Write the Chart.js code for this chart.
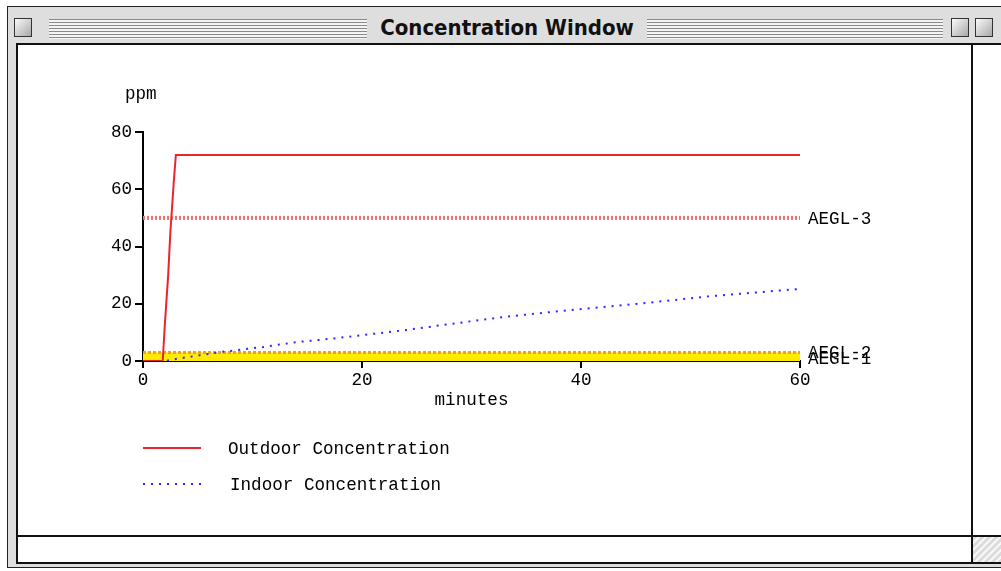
<!DOCTYPE html>
<html>
<head>
<meta charset="utf-8">
<script src="https://cdn.jsdelivr.net/npm/chart.js@4"></script>
<style>
  html, body { margin: 0; padding: 0; background: #fff; }
  body { width: 1001px; height: 571px; position: relative; overflow: hidden; }
  .win { position: absolute; left: 7px; top: 6px; width: 1000px; height: 562px;
    background: #dedede; border: 1px solid #222; box-sizing: border-box; }
  .titlebar { position: absolute; left: 7px; top: 6px; width: 1000px; height: 37px; }
  .stripes { position: absolute; top: 13px; height: 20px;
    background: repeating-linear-gradient(to bottom, #8a8a8a 0, #8a8a8a 1px, #f4f4f4 1px, #f4f4f4 3px); }
  .title { position: absolute; left: 360px; top: 8px; width: 280px; text-align: center;
    font: bold 22px "DejaVu Sans Condensed", "Liberation Sans Narrow", sans-serif;
    color: #111; background: #dedede; line-height: 28px; }
  .box { position: absolute; top: 12px; width: 18px; height: 19px; border: 1px solid #333;
    background: linear-gradient(135deg, #fafafa, #a8a8a8); box-sizing: border-box; }
  .content { position: absolute; left: 16px; top: 43px; width: 990px; height: 521px;
    background: #fff; border: 2px solid #111; box-sizing: border-box; }
  .vbar { position: absolute; left: 971px; top: 43px; width: 2px; height: 521px; background: #111; }
  .hbar { position: absolute; left: 16px; top: 535px; width: 990px; height: 2px; background: #111; }
  .grow { position: absolute; left: 973px; top: 537px; width: 30px; height: 25px;
    background: repeating-linear-gradient(135deg, #dcdcdc 0, #dcdcdc 3px, #f7f7f7 3px, #f7f7f7 5px); }
  canvas { position: absolute; left: 0; top: 0; }
</style>
</head>
<body>
<div class="win"></div>
<div class="titlebar">
  <div class="box" style="left:7px"></div>
  <div class="stripes" style="left:42px; width:330px"></div>
  <div class="stripes" style="left:636px; width:300px"></div>
  <div class="title">Concentration Window</div>
  <div class="box" style="left:944px"></div>
  <div class="box" style="left:968px"></div>
</div>
<div class="content"></div>
<div class="vbar"></div>
<div class="hbar"></div>
<div class="grow"></div>
<canvas id="chart" width="1001" height="571"></canvas>
<script>
// values
const outdoorMinutes = [0, 1.8, 2.0, 2.3, 2.5, 2.8, 3.0, 60];
const outdoorPpm = [0, 0, 13, 30, 45, 62, 72, 72];

const indoorMinutes = [0, 2, 3, 7, 11, 14, 17, 24, 28, 33, 39, 45, 52, 60];
const indoorPpm = [0, 0, 0.7, 3.1, 4.9, 6.6, 7.7, 10.8, 12.9, 15.4, 17.8, 19.9, 22.7, 25.2];

const aeglNames = ["AEGL-3", "AEGL-2", "AEGL-1"];
const aeglPpm = [50, 3, 1.1];

const xTicks = [0, 20, 40, 60];
const yTicks = [0, 20, 40, 60, 80];

const monoFont = { family: "'Liberation Mono', 'DejaVu Sans Mono', monospace", size: 17.6 };
const fontStr = "17.6px 'Liberation Mono', 'DejaVu Sans Mono', monospace";

const toPoints = (xs, ys) => xs.map((x, i) => ({ x: x, y: ys[i] }));

const aeglStyles = [
  { borderColor: "#f07070", borderDash: [2, 2], borderWidth: 4, fill: false },
  { borderColor: "#f0a020", borderDash: [3, 2], borderWidth: 3, fill: "origin", backgroundColor: "#ffea00" },
  { borderColor: "#ffe000", borderDash: [], borderWidth: 2, fill: false },
];

const aeglDatasets = aeglNames.map((name, i) => Object.assign({
  label: name,
  data: [{ x: xTicks[0], y: aeglPpm[i] }, { x: xTicks[xTicks.length - 1], y: aeglPpm[i] }],
  pointRadius: 0,
  order: 5,
}, aeglStyles[i]));

// AEGL labels at the right end of each level line
const aeglLabels = {
  id: "aeglLabels",
  afterDatasetsDraw(chart) {
    const ctx = chart.ctx;
    const yScale = chart.scales.y;
    ctx.save();
    ctx.font = fontStr;
    ctx.fillStyle = "#000";
    ctx.textBaseline = "middle";
    aeglNames.forEach((name, i) => {
      ctx.fillText(name, chart.chartArea.right + 8, yScale.getPixelForValue(aeglPpm[i]) + 1);
    });
    // unit label above the y axis
    ctx.fillText("ppm", chart.chartArea.left - 18, chart.chartArea.top - 38);
    ctx.restore();
  },
};

// legend drawn under the plot like the original
const bottomLegend = {
  id: "bottomLegend",
  afterDraw(chart) {
    const ctx = chart.ctx;
    const left = chart.chartArea.left;
    const rows = [0, 1];
    ctx.save();
    ctx.font = fontStr;
    ctx.textBaseline = "middle";
    rows.forEach((di, r) => {
      const ds = chart.data.datasets[di];
      const y = 448 + r * 36;
      ctx.strokeStyle = ds.borderColor;
      ctx.lineWidth = 2;
      ctx.setLineDash(ds.borderDash || []);
      ctx.beginPath();
      ctx.moveTo(left, y);
      ctx.lineTo(left + 58, y);
      ctx.stroke();
      ctx.setLineDash([]);
      ctx.fillStyle = "#000";
      ctx.fillText(ds.label, left + 85 + r * 2, y + 1);
    });
    ctx.restore();
  },
};

new Chart(document.getElementById("chart"), {
  type: "line",
  data: {
    datasets: [
      {
        label: "Outdoor Concentration",
        data: toPoints(outdoorMinutes, outdoorPpm),
        borderColor: "#e8262b",
        borderWidth: 2,
        pointRadius: 0,
        tension: 0,
        order: 1,
      },
      {
        label: "Indoor Concentration",
        data: toPoints(indoorMinutes, indoorPpm),
        borderColor: "#2a2aff",
        borderWidth: 2,
        borderDash: [2, 6],
        pointRadius: 0,
        tension: 0,
        order: 1,
      },
      ...aeglDatasets,
    ],
  },
  options: {
    responsive: false,
    animation: false,
    layout: { padding: { left: 103, right: 201, top: 132, bottom: 160 } },
    plugins: { legend: { display: false }, tooltip: { enabled: false } },
    scales: {
      x: {
        type: "linear",
        min: 0,
        max: 60,
        z: 1,
        afterBuildTicks: (scale) => { scale.ticks = xTicks.map((v) => ({ value: v })); },
        afterFit: (scale) => { scale.height = 50; },
        ticks: { color: "#000", font: monoFont, padding: 2, maxRotation: 0 },
        grid: { drawOnChartArea: false, tickLength: 7, color: "#000", lineWidth: 2 },
        border: { color: "#000", width: 2 },
        title: { display: true, text: "minutes", color: "#000", font: monoFont, padding: { top: 0, bottom: 0 } },
      },
      y: {
        min: 0,
        max: 80,
        z: 1,
        afterBuildTicks: (scale) => { scale.ticks = yTicks.map((v) => ({ value: v })); },
        afterFit: (scale) => { scale.width = 40; },
        ticks: { color: "#000", font: monoFont, padding: 3 },
        grid: { drawOnChartArea: false, tickLength: 8, color: "#000", lineWidth: 2 },
        border: { color: "#000", width: 2 },
      },
    },
  },
  plugins: [aeglLabels, bottomLegend],
});
</script>
</body>
</html>
